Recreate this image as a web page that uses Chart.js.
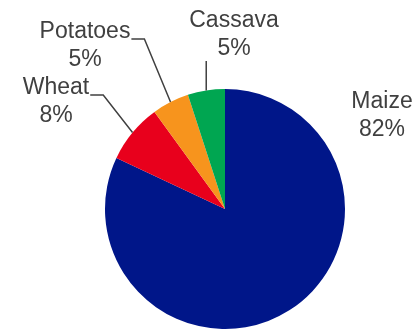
<!DOCTYPE html>
<html>
<head>
<meta charset="utf-8">
<script src="https://cdn.jsdelivr.net/npm/chart.js@4"></script>
<style>
  html, body { margin: 0; padding: 0; background: #fff; }
  #wrap { width: 414px; height: 329px; }
</style>
</head>
<body>
<div id="wrap"><canvas id="crops"></canvas></div>
<script>
// Crop shares
const categories = ['Maize', 'Wheat', 'Potatoes', 'Cassava'];
const shares = [82, 8, 5, 5];
const sliceColors = ['#001689', '#e8001c', '#f7941d', '#00a651'];

// Where each label sits and how it is tied back to its slice
const labelLayout = [
    { x: 382, y: 108, leader: 'none' },
    { x: 56, y: 94, leader: 'elbow' },
    { x: 85, y: 38, leader: 'elbow' },
    { x: 234, y: 27, leader: 'vertical' }
];

const textColor = '#404040';
const labelFont = '23px "Liberation Sans", Arial, sans-serif';
const lineGap = 28;

const sliceLabels = {
    id: 'sliceLabels',
    afterDraw(chart) {
        const ctx = chart.ctx;
        const arcs = chart.getDatasetMeta(0).data;
        ctx.save();
        ctx.font = labelFont;
        ctx.fillStyle = textColor;
        ctx.strokeStyle = textColor;
        ctx.lineWidth = 1.5;
        ctx.textAlign = 'center';
        ctx.textBaseline = 'alphabetic';

        arcs.forEach((arc, i) => {
            const lay = labelLayout[i];
            const name = chart.data.labels[i];
            const pct = chart.data.datasets[0].data[i] + '%';
            ctx.fillText(name, lay.x, lay.y);
            ctx.fillText(pct, lay.x, lay.y + lineGap);

            const p = arc.getProps(['x', 'y', 'startAngle', 'endAngle', 'outerRadius'], true);
            const mid = (p.startAngle + p.endAngle) / 2;
            const ex = p.x + Math.cos(mid) * p.outerRadius;
            const ey = p.y + Math.sin(mid) * p.outerRadius;

            ctx.beginPath();
            if (lay.leader === 'elbow') {
                const sx = lay.x + ctx.measureText(name).width / 2 + 1;
                const sy = lay.y + 1;
                ctx.moveTo(sx, sy);
                ctx.lineTo(sx + 13, sy);
                ctx.lineTo(ex, ey);
            } else if (lay.leader === 'vertical') {
                ctx.moveTo(ex, lay.y + lineGap + 6);
                ctx.lineTo(ex, ey);
            }
            ctx.stroke();
        });
        ctx.restore();
    }
};

new Chart(document.getElementById('crops'), {
    type: 'pie',
    data: {
        labels: categories,
        datasets: [{
            data: shares,
            backgroundColor: sliceColors,
            borderWidth: 0
        }]
    },
    options: {
        responsive: true,
        maintainAspectRatio: false,
        animation: false,
        layout: { padding: { top: 89, bottom: 0, left: 105, right: 69 } },
        plugins: {
            legend: { display: false },
            tooltip: { enabled: false }
        }
    },
    plugins: [sliceLabels]
});
</script>
</body>
</html>
